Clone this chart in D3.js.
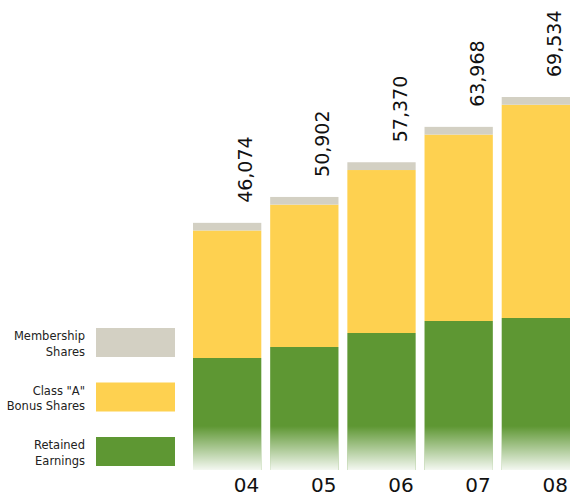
<!DOCTYPE html>
<html>
<head>
<meta charset="utf-8">
<script src="https://cdn.jsdelivr.net/npm/d3@7/dist/d3.min.js"></script>
<style>
  html, body { margin: 0; padding: 0; background: #ffffff; }
  svg { display: block; font-family: "DejaVu Sans", Verdana, sans-serif; }
</style>
</head>
<body>
<svg id="chart" width="571" height="499"></svg>
<script>
// Capital composition by year
const years = ["04", "05", "06", "07", "08"];
const retainedEarnings = [20880, 22930, 25540, 27780, 28340];
const classABonusShares = [23774, 26542, 30380, 34748, 39749];
const membershipShares = [1420, 1430, 1450, 1440, 1445];
const totalLabels = ["46,074", "50,902", "57,370", "63,968", "69,534"];

const seriesNames = ["Retained Earnings", "Class \u201CA\u201D Bonus Shares", "Membership Shares"];
const legendLines = [["Retained", "Earnings"], ["Class \"A\"", "Bonus Shares"], ["Membership", "Shares"]];
const colors = ["#5e9733", "#fed150", "#d3d0c3"];

const rows = years.map((yr, i) => ({
  year: yr,
  re: retainedEarnings[i],
  ca: classABonusShares[i],
  ms: membershipShares[i],
  label: totalLabels[i]
}));

const svg = d3.select("#chart");

const x = d3.scaleBand().domain(years).range([193, 570]).paddingInner(0.115).paddingOuter(0);
const totals = rows.map(d => d.re + d.ca + d.ms);
const y = d3.scaleLinear().domain([0, d3.max(totals)]).range([470, 97]);

const stack = d3.stack().keys(["re", "ca", "ms"]);
const layers = stack(rows);

// fade toward white at the base of each column
const defs = svg.append("defs");
const grad = defs.append("linearGradient").attr("id", "baseFade")
  .attr("x1", 0).attr("y1", 0).attr("x2", 0).attr("y2", 1);
grad.append("stop").attr("offset", "0%").attr("stop-color", "#fff").attr("stop-opacity", 0);
grad.append("stop").attr("offset", "100%").attr("stop-color", "#fff").attr("stop-opacity", 0.93);

svg.append("g").selectAll("g")
  .data(layers)
  .join("g")
  .attr("fill", (d, i) => colors[i])
  .selectAll("rect")
  .data(d => d)
  .join("rect")
  .attr("x", d => x(d.data.year))
  .attr("width", x.bandwidth())
  .attr("y", d => y(d[1]))
  .attr("height", d => y(d[0]) - y(d[1]));

svg.append("g").selectAll("rect")
  .data(rows)
  .join("rect")
  .attr("x", d => x(d.year))
  .attr("width", x.bandwidth())
  .attr("y", 426)
  .attr("height", y(0) - 426)
  .attr("fill", "url(#baseFade)");

// rotated totals above each column
svg.append("g").selectAll("text")
  .data(rows)
  .join("text")
  .attr("transform", (d, i) => `translate(${x(d.year) + x.bandwidth() - 9},${y(totals[i]) - 20}) rotate(-90)`)
  .attr("font-size", 19)
  .attr("fill", "#111")
  .text(d => d.label);

// year labels
svg.append("g").selectAll("text")
  .data(rows)
  .join("text")
  .attr("x", d => x(d.year) + x.bandwidth() - 2)
  .attr("y", 492)
  .attr("text-anchor", "end")
  .attr("font-size", 20)
  .attr("fill", "#111")
  .text(d => d.year);

// legend, top to bottom: membership, class A, retained
const legendOrder = [2, 1, 0];
const legend = svg.append("g").selectAll("g")
  .data(legendOrder)
  .join("g")
  .attr("transform", (d, i) => `translate(0,${328 + i * 54.5})`);

legend.append("rect")
  .attr("x", 96).attr("y", 0)
  .attr("width", 79).attr("height", 29)
  .attr("fill", d => colors[d]);

legend.append("text")
  .attr("text-anchor", "end")
  .attr("font-size", 11.5)
  .attr("fill", "#222")
  .selectAll("tspan")
  .data(d => legendLines[d])
  .join("tspan")
  .attr("x", 85)
  .attr("y", (t, j) => 12 + j * 15.5)
  .text(t => t);
</script>
</body>
</html>
